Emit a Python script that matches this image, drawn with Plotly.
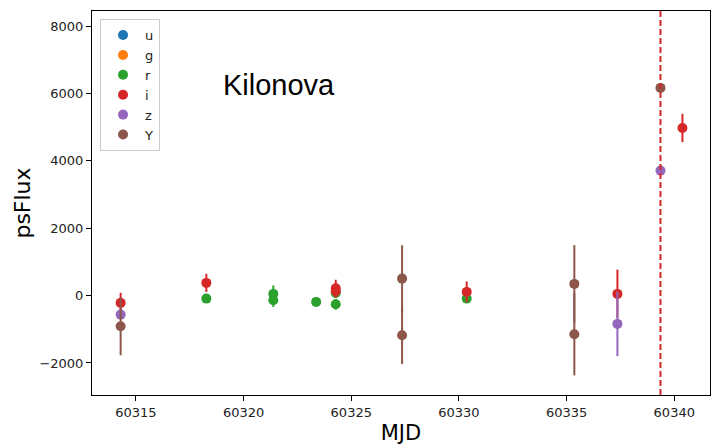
import plotly.graph_objects as go

bands = ["u", "g", "r", "i", "z", "Y"]
colors = ["#1f77b4", "#ff7f0e", "#2ca02c", "#d62728", "#9467bd", "#8c564b"]

u_mjd, u_flux, u_err = [], [], []
g_mjd, g_flux, g_err = [], [], []
r_mjd = [60318.27, 60321.38, 60321.38, 60323.37, 60324.28, 60324.28, 60330.36]
r_flux = [-89, 50, -139, -187, 80, -258, -89]
r_err = [130, 250, 200, 125, 150, 160, 80]
i_mjd = [60314.29, 60318.27, 60324.28, 60324.28, 60330.36, 60337.36, 60340.38]
i_flux = [-217, 377, 220, 130, 110, 50, 4975]
i_err = [300, 270, 250, 200, 310, 720, 420]
z_mjd = [60314.29, 60337.36, 60339.36]
z_flux = [-564, -840, 3709]
z_err = [150, 960, 100]
Y_mjd = [60314.29, 60327.36, 60327.36, 60335.36, 60335.36, 60339.36]
Y_flux = [-910, 504, -1178, 347, -1148, 6163]
Y_err = [860, 990, 850, 1150, 1220, 100]

x_ticks = [60315, 60320, 60325, 60330, 60335, 60340]
y_ticks = [-2000, 0, 2000, 4000, 6000, 8000]

event_mjd = 60339.36

data = {
    "u": (u_mjd, u_flux, u_err),
    "g": (g_mjd, g_flux, g_err),
    "r": (r_mjd, r_flux, r_err),
    "i": (i_mjd, i_flux, i_err),
    "z": (z_mjd, z_flux, z_err),
    "Y": (Y_mjd, Y_flux, Y_err),
}

fig = go.Figure()
for b, c in zip(bands, colors):
    x, y, e = data[b]
    if not x:
        x, y, e = [None], [None], [None]
    fig.add_trace(go.Scatter(
        x=x, y=y, mode="markers", name=b,
        marker=dict(color=c, size=10),
        error_y=dict(type="data", array=e, visible=True, color=c, thickness=2, width=0),
    ))

fig.add_vline(x=event_mjd, line=dict(color="#d62728", dash="6px,3px", width=2))

fig.add_annotation(x=60318.95, y=6250, xref="x", yref="y", text="Kilonova",
                   showarrow=False, xanchor="left", yanchor="middle",
                   font=dict(family="Liberation Sans, Arial", size=29, color="black"))

axis_common = dict(showgrid=False, zeroline=False, showline=True, linecolor="black",
                   linewidth=1, mirror=True, ticks="outside", ticklen=5, tickcolor="black",
                   tickfont=dict(family="DejaVu Sans", size=13, color="#222"))

fig.update_layout(
    width=712, height=447,
    margin=dict(l=92, r=2, t=11, b=52, autoexpand=False),
    plot_bgcolor="white", paper_bgcolor="white",
    showlegend=True,
    legend=dict(x=0.013, y=0.979, xanchor="left", yanchor="top",
                bgcolor="rgba(255,255,255,0.8)", bordercolor="#cccccc", borderwidth=1,
                font=dict(family="DejaVu Sans", size=13, color="#222"),
                tracegroupgap=0, itemwidth=34),
    xaxis=dict(range=[60312.96, 60341.66], tickvals=x_ticks,
               ticktext=[str(v) for v in x_ticks],
               title=dict(text="MJD", font=dict(family="DejaVu Sans", size=21, color="black"), standoff=6),
               **axis_common),
    yaxis=dict(range=[-2950, 8445], tickvals=y_ticks,
               ticktext=[("\u2212" + str(-v)) if v < 0 else str(v) for v in y_ticks],
               title=dict(text="psFlux", font=dict(family="DejaVu Sans", size=22, color="black"), standoff=2),
               **axis_common),
)

fig.write_html("out.html")
